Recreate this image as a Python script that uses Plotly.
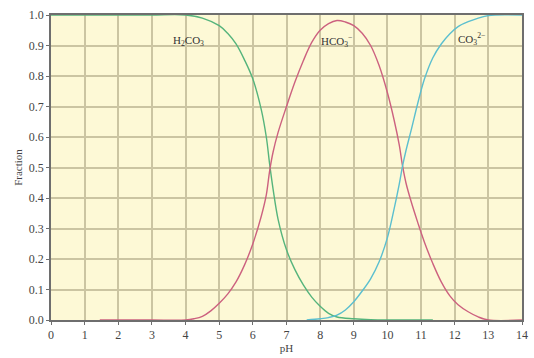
import plotly.graph_objects as go

# ---- data ----
h2co3_ph = [0, 1, 2, 3, 4.0, 4.5, 5.0, 5.25, 5.5, 5.75, 6.0, 6.25, 6.4, 6.5, 6.6, 6.75,
            7.0, 7.25, 7.5, 7.75, 8.0, 8.25, 8.5, 9.0, 9.5, 10.0, 11.35]
h2co3_fr = [1, 1, 1, 1, 1.0, 0.99, 0.965, 0.94, 0.905, 0.853, 0.79, 0.69, 0.60, 0.51, 0.43, 0.33,
            0.23, 0.165, 0.115, 0.075, 0.045, 0.022, 0.01, 0.004, 0.001, 0, 0]

hco3_ph = [1.45, 2, 3, 4.0, 4.25, 4.5, 4.75, 5.0, 5.25, 5.5, 5.75, 6.0, 6.25, 6.4, 6.5, 6.6,
           6.75, 7.0, 7.25, 7.5, 7.75, 8.0, 8.25, 8.5, 8.75, 9.0, 9.25, 9.5, 9.75, 10.0,
           10.2, 10.35, 10.45, 10.55, 10.7, 10.9, 11.1, 11.35, 11.6, 11.85, 12.1, 12.4,
           12.7, 13.0, 14.0]
hco3_fr = [0, 0, 0, 0.0, 0.004, 0.012, 0.03, 0.055, 0.085, 0.125, 0.18, 0.25, 0.34, 0.41, 0.49, 0.55,
           0.615, 0.70, 0.78, 0.85, 0.91, 0.95, 0.972, 0.982, 0.977, 0.965, 0.94, 0.90, 0.835, 0.745,
           0.655, 0.575, 0.505, 0.45, 0.39, 0.32, 0.255, 0.185, 0.125, 0.08, 0.05, 0.027,
           0.01, 0.0, 0]

co3_ph = [7.6, 8.0, 8.25, 8.5, 8.75, 9.0, 9.25, 9.5, 9.75, 10.0, 10.2, 10.35, 10.45, 10.55,
          10.7, 10.9, 11.1, 11.35, 11.6, 11.85, 12.1, 12.4, 12.7, 13.0, 13.2, 14.0]
co3_fr = [0, 0.004, 0.008, 0.016, 0.033, 0.06, 0.095, 0.135, 0.19, 0.27, 0.365, 0.445, 0.505, 0.555,
          0.62, 0.71, 0.79, 0.86, 0.905, 0.938, 0.962, 0.978, 0.99, 0.998, 1.0, 1.0]

x_ticks = list(range(0, 15))
y_ticks = [i / 10 for i in range(11)]

labels = ["H<sub>2</sub>CO<sub>3</sub>", "HCO<sub>3</sub><sup>−</sup>", "CO<sub>3</sub><sup>2−</sup>"]
label_ph = [4.1, 8.5, 12.5]
label_fr = [0.915, 0.915, 0.92]

# ---- figure ----
serif = "Liberation Serif"
fig = go.Figure()
for xs, ys, col in [(h2co3_ph, h2co3_fr, "#55b47c"),
                    (hco3_ph, hco3_fr, "#cc617f"),
                    (co3_ph, co3_fr, "#5bbfcf")]:
    fig.add_trace(go.Scatter(x=xs, y=ys, mode="lines",
                             line=dict(color=col, width=1.4, shape="spline", smoothing=1.0),
                             hoverinfo="skip", cliponaxis=False))

for t, xx, yy in zip(labels, label_ph, label_fr):
    fig.add_annotation(x=xx, y=yy, text=t, showarrow=False,
                       font=dict(family=serif, size=11, color="#333333"))

fig.update_layout(
    width=534, height=358,
    margin=dict(l=51, r=6, t=15, b=37),
    paper_bgcolor="white", plot_bgcolor="#fdf9d6",
    showlegend=False,
    font=dict(family=serif, size=12, color="#444444"),
)
fig.update_xaxes(range=[0, 14], tickvals=x_ticks, ticktext=[str(v) for v in x_ticks],
                 showgrid=True, gridcolor="#cbc5a2", gridwidth=1.5,
                 showline=True, linecolor="#6e6e6e", linewidth=1.5, mirror=True,
                 ticks="outside", ticklen=3, tickcolor="#6e6e6e", zeroline=False,
                 title=dict(text="pH", font=dict(family=serif, size=11, color="#444444"), standoff=2))
fig.update_yaxes(range=[0, 1.0], tickvals=y_ticks, ticktext=[f"{v:.1f}" for v in y_ticks],
                 showgrid=True, gridcolor="#cbc5a2", gridwidth=1.5,
                 showline=True, linecolor="#6e6e6e", linewidth=1.5, mirror=True,
                 ticks="outside", ticklen=3, tickcolor="#6e6e6e", zeroline=False,
                 title=dict(text="Fraction", font=dict(family=serif, size=11, color="#444444"), standoff=4))

fig.write_html("out.html")
